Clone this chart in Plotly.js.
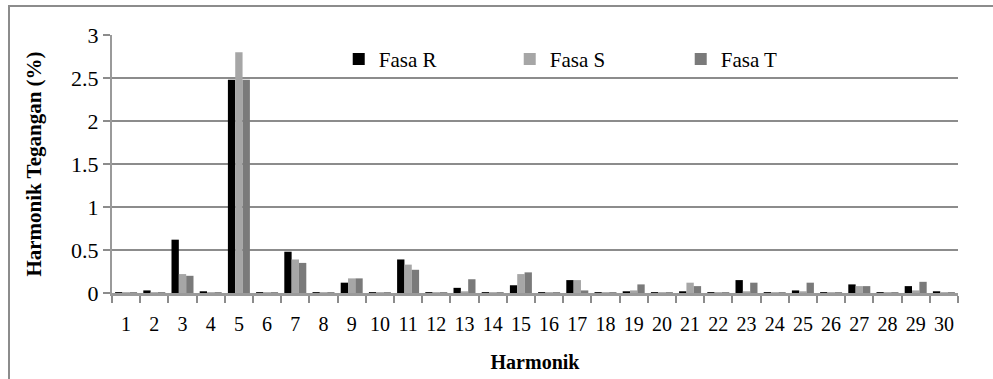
<!DOCTYPE html>
<html>
<head>
<meta charset="utf-8">
<script src="https://cdn.plot.ly/plotly-3.0.1.min.js"></script>
<style>
html,body{margin:0;padding:0;background:#fff;}
#chart{width:993px;height:379px;position:relative;}
#frame{position:absolute;left:8px;top:5px;width:1000px;height:400px;border-left:2px solid #8c8c8c;border-top:2px solid #8c8c8c;pointer-events:none;}
</style>
</head>
<body>
<div id="chart"></div>
<div id="frame"></div>
<script>
const harmonik = ['1','2','3','4','5','6','7','8','9','10','11','12','13','14','15','16','17','18','19','20','21','22','23','24','25','26','27','28','29','30'];
const fasaR = [0.01,0.03,0.62,0.02,2.48,0.01,0.48,0.01,0.12,0.01,0.39,0.01,0.06,0.01,0.09,0.01,0.15,0.01,0.02,0.01,0.02,0.01,0.15,0.01,0.03,0.01,0.10,0.01,0.08,0.02];
const fasaS = [0.01,0.01,0.22,0.01,2.80,0.01,0.39,0.01,0.17,0.01,0.33,0.01,0.02,0.01,0.22,0.01,0.15,0.01,0.03,0.01,0.12,0.01,0.02,0.01,0.02,0.01,0.08,0.01,0.03,0.01];
const fasaT = [0.01,0.01,0.20,0.01,2.48,0.01,0.35,0.01,0.17,0.01,0.27,0.01,0.16,0.01,0.24,0.01,0.03,0.01,0.10,0.01,0.08,0.01,0.12,0.01,0.12,0.01,0.08,0.01,0.13,0.01];
const yTicks = [0,0.5,1,1.5,2,2.5,3];
const yTickText = ['0','0.5','1','1.5','2','2.5','3'];

const serif = "Liberation Serif, DejaVu Serif, serif";
const traces = [
  {type:'bar', name:'Fasa R', x:harmonik, y:fasaR, marker:{color:'#000000'}},
  {type:'bar', name:'Fasa S', x:harmonik, y:fasaS, marker:{color:'#a6a6a6'}},
  {type:'bar', name:'Fasa T', x:harmonik, y:fasaT, marker:{color:'#7a7a7a'}}
];
const layout = {
  width:993, height:379,
  margin:{l:112, r:35, t:35, b:86, autoexpand:false},
  paper_bgcolor:'#fff', plot_bgcolor:'#fff',
  barmode:'group', bargap:0.22, bargroupgap:0,
  font:{family:serif, color:'#000', size:18},
  showlegend:true,
  legend:{orientation:'h', x:0.268, y:0.985, xanchor:'left', yanchor:'top',
    font:{family:serif, size:21, color:'#000'}, bgcolor:'rgba(0,0,0,0)',
    itemwidth:30, entrywidth:126, tracegroupgap:0},
  xaxis:{type:'category', showgrid:false, showline:true, linecolor:'#9a9a9a', linewidth:3, automargin:false,
    ticks:'outside', ticklen:7, tickcolor:'#8c8c8c', tickwidth:2, tickson:'boundaries', tickangle:0,
    tickfont:{family:serif, size:20, color:'#000'}, ticklabelstandoff:11,
    title:{text:'<b>Harmonik</b>', font:{family:serif, size:20, color:'#000'}, standoff:21}},
  yaxis:{range:[0,3], tickvals:yTicks, ticktext:yTickText, showgrid:true, gridcolor:'#8c8c8c', gridwidth:2.5, automargin:false,
    showline:true, linecolor:'#9a9a9a', linewidth:2, ticks:'outside', ticklen:7, tickcolor:'#8c8c8c', tickwidth:2,
    zeroline:false, tickfont:{family:serif, size:22, color:'#000'},
    title:{text:'<b>Harmonik Tegangan (%)</b>', font:{family:serif, size:21, color:'#000'}, standoff:24}}
};
Plotly.newPlot('chart', traces, layout, {displayModeBar:false, staticPlot:true});
</script>
</body>
</html>
